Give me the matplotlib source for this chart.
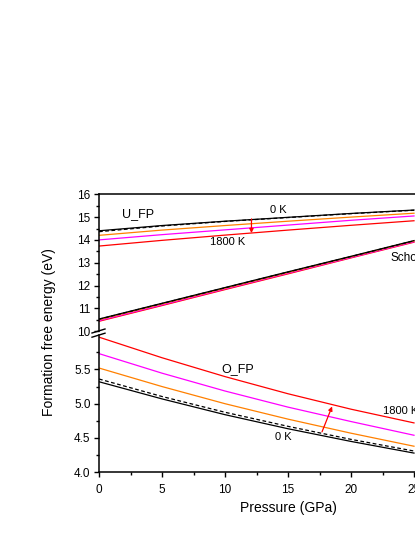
import matplotlib
matplotlib.use("Agg")
import matplotlib.pyplot as plt
from matplotlib.lines import Line2D
import numpy as np

plt.rcParams["font.family"] = ["Liberation Sans", "DejaVu Sans"]

# pressure grid (GPa)
pressure = [0, 5, 10, 15, 20, 25]

# U_FP formation free energy (eV)
ufp_0k = [14.40, 14.63, 14.82, 14.99, 15.16, 15.31]
ufp_0k_dash = [14.36, 14.61, 14.81, 14.98, 15.15, 15.30]
ufp_t1 = [14.20, 14.43, 14.63, 14.82, 15.00, 15.17]
ufp_t2 = [14.00, 14.23, 14.44, 14.65, 14.86, 15.05]
ufp_1800 = [13.73, 13.98, 14.21, 14.43, 14.64, 14.84]

# Schottky
sch_0k = [10.53, 11.22, 11.91, 12.60, 13.28, 13.97]
sch_0k_dash = [10.52, 11.21, 11.90, 12.59, 13.27, 13.96]
sch_t1 = [10.50, 11.19, 11.88, 12.57, 13.26, 13.95]
sch_t2 = [10.46, 11.15, 11.85, 12.54, 13.23, 13.92]
sch_1800 = [10.43, 11.12, 11.82, 12.51, 13.21, 13.90]

# O_FP
ofp_0k = [5.32, 5.07, 4.84, 4.635, 4.45, 4.28]
ofp_0k_dash = [5.36, 5.105, 4.875, 4.67, 4.48, 4.31]
ofp_t1 = [5.52, 5.25, 5.00, 4.775, 4.57, 4.38]
ofp_t2 = [5.73, 5.445, 5.185, 4.95, 4.74, 4.54]
ofp_1800 = [5.97, 5.67, 5.395, 5.145, 4.92, 4.72]

ORANGE = "#FF8000"
MAGENTA = "#FF00FF"
RED = "#FF0000"

W, H = 415, 537
fig = plt.figure(figsize=(W / 100, H / 100), dpi=100)


def px(x0, y_top, x1, y_bot):
    return [x0 / W, 1 - y_bot / H, (x1 - x0) / W, (y_bot - y_top) / H]


ax_top = fig.add_axes(px(99, 194.3, 477, 331.1))
ax_bot = fig.add_axes(px(99, 335.1, 477, 472.3))

LW = 0.9


def draw(ax, solid, dash, t1, t2, hot):
    ax.plot(pressure, hot, color=RED, lw=LW)
    ax.plot(pressure, t2, color=MAGENTA, lw=LW)
    ax.plot(pressure, t1, color=ORANGE, lw=LW)
    ax.plot(pressure, dash, color="black", lw=LW, dashes=(3, 2))
    ax.plot(pressure, solid, color="black", lw=LW)


draw(ax_top, ufp_0k, ufp_0k_dash, ufp_t1, ufp_t2, ufp_1800)
draw(ax_top, sch_0k, sch_0k_dash, sch_t1, sch_t2, sch_1800)
draw(ax_bot, ofp_0k, ofp_0k_dash, ofp_t1, ofp_t2, ofp_1800)

for ax in (ax_top, ax_bot):
    ax.set_xlim(0, 30)
    for s in ax.spines.values():
        s.set_linewidth(1.1)
    ax.tick_params(which="both", direction="out", width=1.0, labelsize=8.5, pad=2.5)
    ax.tick_params(which="major", length=3.5)
    ax.tick_params(which="minor", length=2.2)

ax_top.set_ylim(10, 16)
ax_top.set_yticks(np.arange(10, 17, 1))
ax_top.set_yticks(np.arange(10.5, 16, 1), minor=True)
ax_top.spines["bottom"].set_visible(False)
ax_top.tick_params(axis="x", which="both", bottom=False, labelbottom=False)

ax_bot.set_ylim(4.0, 6.0)
ax_bot.set_yticks([4.0, 4.5, 5.0, 5.5])
ax_bot.set_yticklabels(["4.0", "4.5", "5.0", "5.5"])
ax_bot.set_yticks([4.25, 4.75, 5.25, 5.75], minor=True)
ax_bot.spines["top"].set_visible(False)
ax_bot.set_xticks(np.arange(0, 31, 5))
ax_bot.set_xticks(np.arange(2.5, 30, 5), minor=True)
ax_bot.tick_params(axis="x", which="major", pad=5)

# annotations
ax_top.text(3.1, 15.15, "U_FP", fontsize=9, ha="center", va="center")
ax_top.text(14.2, 15.3, "0 K", fontsize=8, ha="center", va="center")
ax_top.text(10.2, 13.92, "1800 K", fontsize=8, ha="center", va="center")
ax_top.text(23.1, 13.21, "Schottky", fontsize=8.5, ha="left", va="center")
ax_top.annotate("", xy=(12.1, 14.3), xytext=(12.1, 14.92),
                arrowprops=dict(arrowstyle="-|>", color=RED, lw=0.9,
                                mutation_scale=6, shrinkA=0, shrinkB=0))

ax_bot.text(11.0, 5.50, "O_FP", fontsize=9, ha="center", va="center")
ax_bot.text(22.5, 4.89, "1800 K", fontsize=8, ha="left", va="center")
ax_bot.text(14.6, 4.52, "0 K", fontsize=8, ha="center", va="center")
ax_bot.annotate("", xy=(18.5, 4.96), xytext=(17.7, 4.59),
                arrowprops=dict(arrowstyle="-|>", color=RED, lw=0.9,
                                mutation_scale=6, shrinkA=0, shrinkB=0))

# axis break marks
for yc in (331.0, 335.2):
    fig.add_artist(Line2D([92 / W, 105 / W], [1 - (yc + 2) / H, 1 - (yc - 2) / H],
                          color="black", lw=1.0))

fig.text(288 / W, 1 - 508 / H, "Pressure (GPa)", fontsize=10, ha="center", va="center")
fig.text(49 / W, 1 - 332 / H, "Formation free energy (eV)", fontsize=10,
         ha="center", va="center", rotation=90)

fig.savefig("out.png", dpi=100)
